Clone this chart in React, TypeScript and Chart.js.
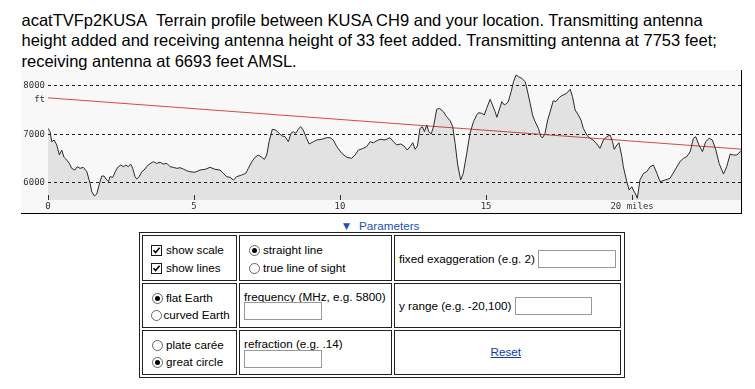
import React, { useEffect, useRef } from "react";
import { Chart, registerables } from "chart.js";

Chart.register(...registerables);

// ---- data ----
const distMiles = [
  0.0, 0.07, 0.13, 0.21, 0.3, 0.39, 0.47, 0.55, 0.64, 0.73, 0.81, 0.92, 1.0, 1.1, 1.21, 1.33, 1.44, 1.5, 1.59, 1.67,
  1.75, 1.84, 1.92, 2.01, 2.07, 2.12, 2.22, 2.33, 2.41, 2.49, 2.58, 2.67, 2.75, 2.83, 2.9, 2.98, 3.04, 3.12, 3.21, 3.29,
  3.38, 3.47, 3.61, 3.72, 3.84, 3.95, 4.07, 4.18, 4.29, 4.41, 4.52, 4.63, 4.75, 4.86, 5.03, 5.21, 5.38, 5.55, 5.72, 5.89,
  6.0, 6.12, 6.23, 6.35, 6.46, 6.63, 6.77, 6.86, 6.98, 7.09, 7.2, 7.32, 7.41, 7.49, 7.57, 7.68, 7.8, 7.91, 8.02, 8.12,
  8.23, 8.32, 8.4, 8.48, 8.57, 8.65, 8.74, 8.83, 8.94, 9.09, 9.2, 9.37, 9.54, 9.66, 9.77, 9.89, 10.06, 10.23, 10.4, 10.51,
  10.63, 10.8, 10.91, 11.03, 11.14, 11.26, 11.37, 11.54, 11.71, 11.83, 11.94, 12.08, 12.19, 12.3, 12.4, 12.49, 12.57, 12.65, 12.74, 12.82,
  12.89, 12.97, 13.04, 13.12, 13.2, 13.31, 13.4, 13.54, 13.65, 13.77, 13.86, 13.94, 14.03, 14.13, 14.22, 14.34, 14.45, 14.57, 14.68, 14.74,
  14.85, 14.94, 15.02, 15.14, 15.22, 15.31, 15.37, 15.45, 15.54, 15.63, 15.71, 15.76, 15.86, 15.94, 16.03, 16.11, 16.22, 16.34, 16.41, 16.51,
  16.59, 16.68, 16.79, 16.88, 16.94, 17.02, 17.11, 17.23, 17.3, 17.39, 17.48, 17.57, 17.65, 17.76, 17.88, 17.96, 18.05, 18.16, 18.25, 18.33,
  18.45, 18.56, 18.67, 18.79, 18.9, 19.02, 19.13, 19.25, 19.33, 19.39, 19.48, 19.55, 19.65, 19.7, 19.82, 19.9, 19.99, 20.04, 20.12, 20.18,
  20.27, 20.39, 20.5, 20.62, 20.73, 20.85, 20.96, 21.13, 21.3, 21.47, 21.64, 21.76, 21.87, 21.99, 22.1, 22.18, 22.29, 22.41, 22.52, 22.64,
  22.75, 22.87, 22.98, 23.13, 23.24, 23.36, 23.47, 23.59, 23.7, 23.73,
];

const elevFeet = [
  7124, 7054, 6847, 6882, 6779, 6572, 6675, 6525, 6469, 6400, 6297, 6262, 6331, 6297, 6318, 6227, 5988, 5814, 5725, 5767,
  5952, 6138, 6138, 6056, 6021, 6124, 6112, 6262, 6331, 6366, 6331, 6366, 6331, 6386, 6297, 6124, 6076, 6124, 6227, 6262,
  6331, 6386, 6434, 6400, 6421, 6386, 6400, 6331, 6318, 6297, 6310, 6283, 6248, 6227, 6215, 6262, 6276, 6318, 6276, 6262,
  6194, 6124, 6112, 6056, 6124, 6159, 6194, 6297, 6434, 6525, 6572, 6525, 6483, 6572, 6847, 7103, 7089, 7021, 6965, 6950,
  6847, 7021, 7054, 7021, 7103, 7157, 7089, 6950, 6800, 6847, 6882, 6896, 6930, 6930, 6882, 6744, 6607, 6525, 6504, 6572,
  6675, 6710, 6744, 6847, 6826, 6868, 6896, 6882, 6930, 6847, 6779, 6800, 6758, 6675, 6744, 6826, 6690, 6758, 7124, 7157,
  7054, 7192, 7054, 7006, 7157, 7516, 7537, 7467, 7364, 7281, 7157, 6813, 6366, 6056, 6194, 6607, 7021, 7260, 7400, 7446,
  7434, 7399, 7537, 7723, 7605, 7467, 7351, 7502, 7673, 7605, 7640, 7673, 7880, 8087, 8225, 8190, 8157, 8087, 7915, 7640,
  7399, 7260, 7124, 6950, 6930, 7021, 7295, 7537, 7694, 7673, 7744, 7791, 7812, 7847, 7930, 7777, 7502, 7399, 7295, 7124,
  6986, 6917, 6882, 6800, 6710, 6882, 6950, 6986, 6847, 6690, 6779, 6826, 6537, 6331, 6021, 5849, 5917, 5849, 5767, 5678,
  6056, 6194, 6227, 6331, 6366, 6194, 6021, 6056, 6090, 6262, 6434, 6504, 6537, 6641, 6917, 6950, 6779, 6641, 6847, 6917,
  6882, 6675, 6400, 6179, 6331, 6593, 6572, 6572, 6641, 6662,
];

const sightMiles = [0, 23.73];
const sightFeet = [7753, 6693];

const xTickValues = [0, 5, 10, 15, 20];
const yTickValues = [6000, 7000, 8000];
const xUnit = "miles";
const yUnit = "ft";
const xMin = 0;
const xMax = 23.73;
const yMin = 5643;
const yMax = 8328;

const titleLines = [
  "acatTVFp2KUSA\u00a0 Terrain profile between KUSA CH9 and your location. Transmitting antenna",
  "height added and receiving antenna height of 33 feet added. Transmitting antenna at 7753 feet;",
  "receiving antenna at 6693 feet AMSL.",
];

// ---- layout helpers (page coordinates; body has an 8px margin) ----
const OFF = 8;
const FORM_FONT = "'Liberation Sans', Arial, sans-serif";
const FS = 11.7;

function Txt(props: { x: number; cy: number; children: React.ReactNode; color?: string; underline?: boolean }) {
  return (
    <div
      style={{
        position: "absolute",
        left: props.x - OFF,
        top: props.cy - 7 - OFF,
        fontFamily: FORM_FONT,
        fontSize: FS,
        lineHeight: "14px",
        whiteSpace: "nowrap",
        color: props.color || "#000",
        textDecoration: props.underline ? "underline" : "none",
      }}
    >
      {props.children}
    </div>
  );
}

function Box(props: { x: number; y: number; w: number; h: number; border?: string; bg?: string }) {
  return (
    <div
      style={{
        position: "absolute",
        left: props.x - OFF,
        top: props.y - OFF,
        width: props.w,
        height: props.h,
        boxSizing: "border-box",
        border: props.border || "1px solid #222",
        background: props.bg || "transparent",
      }}
    />
  );
}

function CheckBox(props: { x: number; y: number }) {
  return (
    <div
      style={{
        position: "absolute",
        left: props.x - OFF,
        top: props.y - OFF,
        width: 11,
        height: 11,
        boxSizing: "border-box",
        border: "1px solid #1a1a1a",
        background: "#fff",
      }}
    >
      <svg width={9} height={9} style={{ position: "absolute", left: 0, top: 0 }}>
        <polyline points="1.5,4.2 3.6,6.6 7.6,1.8" fill="none" stroke="#000" strokeWidth={1.6} />
      </svg>
    </div>
  );
}

function Radio(props: { x: number; y: number; on?: boolean }) {
  return (
    <div
      style={{
        position: "absolute",
        left: props.x - OFF,
        top: props.y - OFF,
        width: 11,
        height: 11,
        boxSizing: "border-box",
        border: "1px solid #666",
        borderRadius: "50%",
        background: "#fff",
      }}
    >
      {props.on ? (
        <div
          style={{
            position: "absolute",
            left: 2,
            top: 2,
            width: 5,
            height: 5,
            borderRadius: "50%",
            background: "#000",
          }}
        />
      ) : null}
    </div>
  );
}

function ProfileChart() {
  const ref = useRef<HTMLCanvasElement | null>(null);
  useEffect(() => {
    if (!ref.current) return;
    const tickFont = { family: "'DejaVu Sans Mono', monospace", size: 9 };
    const unitPlugin = {
      id: "unitLabel",
      afterDraw(chart: any) {
        const ys = chart.scales.y;
        const c = chart.ctx;
        c.save();
        c.font = "9px 'DejaVu Sans Mono', monospace";
        c.fillStyle = "#333";
        c.textAlign = "right";
        c.textBaseline = "middle";
        c.fillText(yUnit, ys.right - 3, ys.getPixelForValue(yTickValues[yTickValues.length - 1]) + 13.5);
        c.restore();
      },
    };
    const chart = new Chart(ref.current, {
      type: "line",
      data: {
        datasets: [
          {
            label: "terrain",
            data: distMiles.map((x, i) => ({ x, y: elevFeet[i] })),
            borderColor: "#2a2a2a",
            borderWidth: 1,
            pointRadius: 0,
            fill: "start",
            backgroundColor: "rgba(0,0,0,0.085)",
            tension: 0,
            order: 1,
          },
          {
            label: "path",
            data: sightMiles.map((x, i) => ({ x, y: sightFeet[i] })),
            borderColor: "#dd4646",
            borderWidth: 1,
            pointRadius: 0,
            fill: false,
            order: 2,
          },
        ],
      },
      options: {
        animation: false,
        responsive: false,
        events: [],
        layout: { padding: 0 },
        plugins: { legend: { display: false }, tooltip: { enabled: false } },
        scales: {
          x: {
            type: "linear",
            min: xMin,
            max: xMax,
            afterBuildTicks: (s: any) => {
              s.ticks = xTickValues.map((v) => ({ value: v }));
            },
            afterFit: (s: any) => {
              s.height = 13;
              s.paddingLeft = 0;
              s.paddingRight = 0;
            },
            ticks: {
              font: tickFont,
              color: "#333",
              padding: 6,
              maxRotation: 0,
              autoSkip: false,
              callback: (v: any) =>
                v === xTickValues[xTickValues.length - 1] ? `${v} ${xUnit}` : `${v}`,
            },
            grid: {
              display: true,
              drawOnChartArea: false,
              drawTicks: true,
              tickLength: -5,
              tickColor: "#333",
              tickWidth: 1,
            },
            border: { display: false },
          },
          y: {
            type: "linear",
            min: yMin,
            max: yMax,
            afterBuildTicks: (s: any) => {
              s.ticks = yTickValues.map((v) => ({ value: v }));
            },
            afterFit: (s: any) => {
              s.width = 27;
              s.paddingTop = 0;
              s.paddingBottom = 0;
            },
            ticks: {
              font: tickFont,
              color: "#333",
              padding: 3,
              callback: (v: any) => `${v}`,
            },
            grid: { drawTicks: false, color: "#222", lineWidth: 1 },
            border: { display: false, dash: [3, 3] },
          },
        },
      } as any,
      plugins: [unitPlugin],
    });
    return () => chart.destroy();
  }, []);
  return (
    <canvas
      ref={ref}
      width={720}
      height={143}
      style={{ display: "block", width: 720, height: 143 }}
    />
  );
}

const cols = [
  { l: 142, w: 95 },
  { l: 239, w: 153 },
  { l: 394, w: 227 },
];
const rows = [
  { t: 235, h: 46 },
  { t: 283, h: 45 },
  { t: 330, h: 45 },
];

export default function App() {
  return (
    <div style={{ position: "relative", width: 739, height: 373 }}>
      <div
        style={{
          position: "absolute",
          left: 21.5 - OFF,
          top: 10 - OFF,
          fontFamily: FORM_FONT,
          fontSize: 16.5,
          lineHeight: "20.3px",
          color: "#000",
          whiteSpace: "nowrap",
        }}
      >
        {titleLines.map((l, i) => (
          <div key={i}>{l}</div>
        ))}
      </div>

      <div
        style={{
          position: "absolute",
          left: 21 - OFF,
          top: 70 - OFF,
          width: 720,
          height: 143,
          background: "#f8f8f8",
          borderRight: "1px solid #000",
          borderBottom: "1px solid #000",
        }}
      >
        <ProfileChart />
      </div>

      <div
        style={{
          position: "absolute",
          left: 343 - OFF,
          top: 219 - OFF,
          fontFamily: "'DejaVu Sans', sans-serif",
          fontSize: 9,
          lineHeight: "14px",
          color: "#2050c0",
        }}
      >
        {"\u25BC"}
      </div>
      <Txt x={359} cy={226} color="#2050c0">
        Parameters
      </Txt>

      <Box x={139} y={232} w={486} h={146} />
      {rows.map((r, ri) =>
        cols.map((c, ci) => <Box key={`${ri}-${ci}`} x={c.l} y={r.t} w={c.w} h={r.h} />)
      )}

      <CheckBox x={151} y={245} />
      <Txt x={166} cy={250}>show scale</Txt>
      <CheckBox x={151} y={263} />
      <Txt x={166} cy={268}>show lines</Txt>

      <Radio x={249} y={245} on />
      <Txt x={263} cy={250}>straight line</Txt>
      <Radio x={248.5} y={263} />
      <Txt x={263} cy={268}>true line of sight</Txt>

      <Txt x={399} cy={258.5}>fixed exaggeration (e.g. 2)</Txt>
      <Box x={538} y={250} w={78} h={18} border="1px solid #999" bg="#fff" />

      <Radio x={151.5} y={293} on />
      <Txt x={166} cy={297.5}>flat Earth</Txt>
      <Radio x={150.5} y={310} />
      <Txt x={163.5} cy={315}>curved Earth</Txt>

      <Txt x={244} cy={297}>frequency (MHz, e.g. 5800)</Txt>
      <Box x={244} y={302} w={78} h={18} border="1px solid #999" bg="#fff" />

      <Txt x={399} cy={305.5}>y range (e.g. -20,100)</Txt>
      <Box x={515} y={297} w={77} h={18} border="1px solid #999" bg="#fff" />

      <Radio x={151.5} y={340} />
      <Txt x={166} cy={345}>plate carée</Txt>
      <Radio x={151.5} y={357} on />
      <Txt x={166} cy={362}>great circle</Txt>

      <Txt x={244} cy={343.5}>refraction (e.g. .14)</Txt>
      <Box x={244} y={350} w={78} h={18} border="1px solid #999" bg="#fff" />

      <Txt x={490.5} cy={351.7} color="#1038b0" underline>
        Reset
      </Txt>
    </div>
  );
}
